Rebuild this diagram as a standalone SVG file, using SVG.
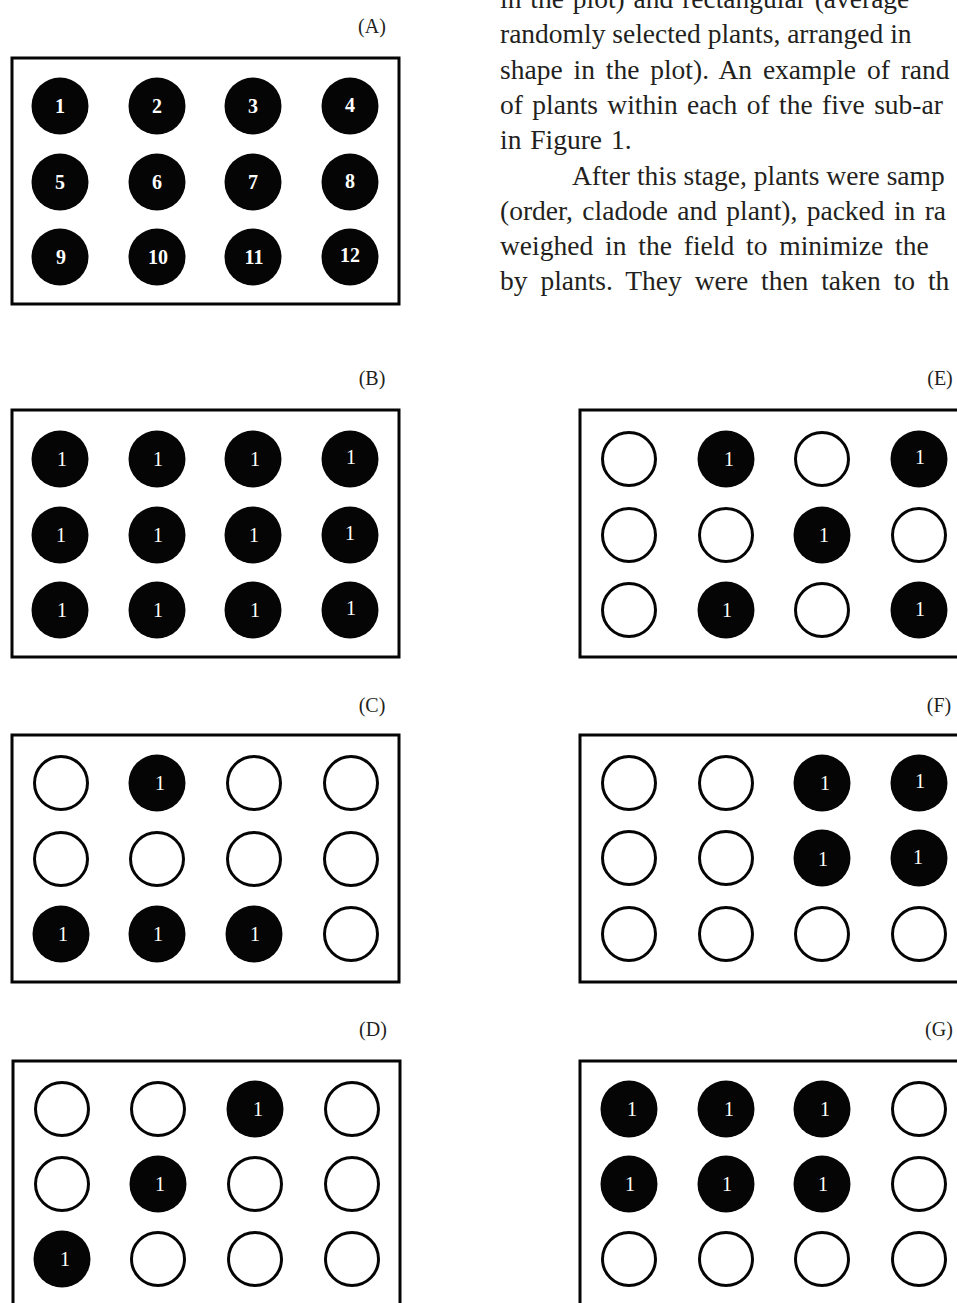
<svg xmlns="http://www.w3.org/2000/svg" width="957" height="1303" viewBox="0 0 957 1303">
<style>
.bg{fill:#ffffff}
.box{fill:none;stroke:#050505;stroke-width:3}
.f{fill:#050505}
.o{fill:#ffffff;stroke:#050505;stroke-width:3}
.lab{font-family:"Liberation Serif","Times New Roman",serif;font-size:20px;fill:#231f20;text-anchor:middle}
.nb{font-family:"Liberation Serif","Times New Roman",serif;font-size:20px;font-weight:bold;fill:#ffffff;text-anchor:middle}
.n{font-family:"Liberation Serif","Times New Roman",serif;font-size:20px;fill:#ffffff;text-anchor:middle}
.body{font-family:"Liberation Serif","Times New Roman",serif;font-size:27.5px;fill:#231f20}
</style>
<rect class="bg" x="0" y="0" width="957" height="1303"/>

<g id="body-text">
<text class="body" x="500" y="8" word-spacing="2">in the plot) and rectangular (average</text>
<text class="body" x="500" y="43">randomly selected plants, arranged in</text>
<text class="body" x="500" y="79" word-spacing="4">shape in the plot). An example of rand</text>
<text class="body" x="500" y="114" word-spacing="2.5">of plants within each of the five sub-ar</text>
<text class="body" x="500" y="149" word-spacing="2">in Figure 1.</text>
<text class="body" x="572" y="185">After this stage, plants were samp</text>
<text class="body" x="500" y="220" word-spacing="2.5">(order, cladode and plant), packed in ra</text>
<text class="body" x="500" y="255" word-spacing="5">weighed in the field to minimize the</text>
<text class="body" x="500" y="290" word-spacing="6">by plants. They were then taken to th</text>
</g>

<!-- Panel A -->
<g id="panel-A">
<text class="lab" x="372" y="33">(A)</text>
<rect class="box" x="12" y="58" width="387" height="246"/>
<g id="A-1"><circle class="f" cx="60" cy="106" r="28.5"/><text class="nb" x="60" y="113">1</text></g>
<g id="A-2"><circle class="f" cx="157" cy="106" r="28.5"/><text class="nb" x="157" y="113">2</text></g>
<g id="A-3"><circle class="f" cx="253" cy="106" r="28.5"/><text class="nb" x="253" y="113">3</text></g>
<g id="A-4"><circle class="f" cx="350" cy="106" r="28.5"/><text class="nb" x="350" y="112">4</text></g>
<g id="A-5"><circle class="f" cx="60" cy="182" r="28.5"/><text class="nb" x="60" y="189">5</text></g>
<g id="A-6"><circle class="f" cx="157" cy="182" r="28.5"/><text class="nb" x="157" y="189">6</text></g>
<g id="A-7"><circle class="f" cx="253" cy="182" r="28.5"/><text class="nb" x="253" y="189">7</text></g>
<g id="A-8"><circle class="f" cx="350" cy="182" r="28.5"/><text class="nb" x="350" y="188">8</text></g>
<g id="A-9"><circle class="f" cx="60" cy="257" r="28.5"/><text class="nb" x="61" y="264">9</text></g>
<g id="A-10"><circle class="f" cx="157" cy="257" r="28.5"/><text class="nb" x="158" y="264">10</text></g>
<g id="A-11"><circle class="f" cx="253" cy="257" r="28.5"/><text class="nb" x="254" y="264">11</text></g>
<g id="A-12"><circle class="f" cx="350" cy="257" r="28.5"/><text class="nb" x="350" y="262">12</text></g>
</g>

<!-- Panel B -->
<g id="panel-B">
<text class="lab" x="372" y="385">(B)</text>
<rect class="box" x="12" y="410" width="387" height="247"/>
<g id="B-1"><circle class="f" cx="60" cy="459" r="28.5"/><text class="n" x="62" y="466">1</text></g>
<g id="B-2"><circle class="f" cx="157" cy="459" r="28.5"/><text class="n" x="158" y="466">1</text></g>
<g id="B-3"><circle class="f" cx="253" cy="459" r="28.5"/><text class="n" x="255" y="466">1</text></g>
<g id="B-4"><circle class="f" cx="350" cy="459" r="28.5"/><text class="n" x="351" y="464">1</text></g>
<g id="B-5"><circle class="f" cx="60" cy="535" r="28.5"/><text class="n" x="61" y="542">1</text></g>
<g id="B-6"><circle class="f" cx="157" cy="535" r="28.5"/><text class="n" x="158" y="542">1</text></g>
<g id="B-7"><circle class="f" cx="253" cy="535" r="28.5"/><text class="n" x="254" y="542">1</text></g>
<g id="B-8"><circle class="f" cx="350" cy="535" r="28.5"/><text class="n" x="350" y="540">1</text></g>
<g id="B-9"><circle class="f" cx="60" cy="610" r="28.5"/><text class="n" x="62" y="617">1</text></g>
<g id="B-10"><circle class="f" cx="157" cy="610" r="28.5"/><text class="n" x="158" y="617">1</text></g>
<g id="B-11"><circle class="f" cx="253" cy="610" r="28.5"/><text class="n" x="255" y="617">1</text></g>
<g id="B-12"><circle class="f" cx="350" cy="610" r="28.5"/><text class="n" x="351" y="615">1</text></g>
</g>

<!-- Panel C -->
<g id="panel-C">
<text class="lab" x="372" y="712">(C)</text>
<rect class="box" x="12" y="735" width="387" height="247"/>
<g id="C-1"><circle class="o" cx="61" cy="783" r="26.5"/></g>
<g id="C-2"><circle class="f" cx="157" cy="783" r="28.5"/><text class="n" x="160" y="790">1</text></g>
<g id="C-3"><circle class="o" cx="254" cy="783" r="26.5"/></g>
<g id="C-4"><circle class="o" cx="351" cy="783" r="26.5"/></g>
<g id="C-5"><circle class="o" cx="61" cy="859" r="26.5"/></g>
<g id="C-6"><circle class="o" cx="157" cy="859" r="26.5"/></g>
<g id="C-7"><circle class="o" cx="254" cy="859" r="26.5"/></g>
<g id="C-8"><circle class="o" cx="351" cy="859" r="26.5"/></g>
<g id="C-9"><circle class="f" cx="61" cy="934" r="28.5"/><text class="n" x="63" y="941">1</text></g>
<g id="C-10"><circle class="f" cx="157" cy="934" r="28.5"/><text class="n" x="158" y="941">1</text></g>
<g id="C-11"><circle class="f" cx="254" cy="934" r="28.5"/><text class="n" x="255" y="941">1</text></g>
<g id="C-12"><circle class="o" cx="351" cy="934" r="26.5"/></g>
</g>

<!-- Panel D -->
<g id="panel-D">
<text class="lab" x="373" y="1036">(D)</text>
<rect class="box" x="13" y="1061" width="387" height="260"/>
<g id="D-1"><circle class="o" cx="62" cy="1109" r="26.5"/></g>
<g id="D-2"><circle class="o" cx="158" cy="1109" r="26.5"/></g>
<g id="D-3"><circle class="f" cx="255" cy="1109" r="28.5"/><text class="n" x="258" y="1116">1</text></g>
<g id="D-4"><circle class="o" cx="352" cy="1109" r="26.5"/></g>
<g id="D-5"><circle class="o" cx="62" cy="1184" r="26.5"/></g>
<g id="D-6"><circle class="f" cx="158" cy="1184" r="28.5"/><text class="n" x="160" y="1191">1</text></g>
<g id="D-7"><circle class="o" cx="255" cy="1184" r="26.5"/></g>
<g id="D-8"><circle class="o" cx="352" cy="1184" r="26.5"/></g>
<g id="D-9"><circle class="f" cx="62" cy="1259" r="28.5"/><text class="n" x="65" y="1266">1</text></g>
<g id="D-10"><circle class="o" cx="158" cy="1259" r="26.5"/></g>
<g id="D-11"><circle class="o" cx="255" cy="1259" r="26.5"/></g>
<g id="D-12"><circle class="o" cx="352" cy="1259" r="26.5"/></g>
</g>

<!-- Panel E -->
<g id="panel-E">
<text class="lab" x="940" y="385">(E)</text>
<rect class="box" x="580" y="410" width="400" height="247"/>
<g id="E-1"><circle class="o" cx="629" cy="459" r="26.5"/></g>
<g id="E-2"><circle class="f" cx="726" cy="459" r="28.5"/><text class="n" x="729" y="466">1</text></g>
<g id="E-3"><circle class="o" cx="822" cy="459" r="26.5"/></g>
<g id="E-4"><circle class="f" cx="919" cy="459" r="28.5"/><text class="n" x="920" y="464">1</text></g>
<g id="E-5"><circle class="o" cx="629" cy="535" r="26.5"/></g>
<g id="E-6"><circle class="o" cx="726" cy="535" r="26.5"/></g>
<g id="E-7"><circle class="f" cx="822" cy="535" r="28.5"/><text class="n" x="824" y="542">1</text></g>
<g id="E-8"><circle class="o" cx="919" cy="535" r="26.5"/></g>
<g id="E-9"><circle class="o" cx="629" cy="610" r="26.5"/></g>
<g id="E-10"><circle class="f" cx="726" cy="610" r="28.5"/><text class="n" x="727" y="617">1</text></g>
<g id="E-11"><circle class="o" cx="822" cy="610" r="26.5"/></g>
<g id="E-12"><circle class="f" cx="919" cy="610" r="28.5"/><text class="n" x="920" y="616">1</text></g>
</g>

<!-- Panel F -->
<g id="panel-F">
<text class="lab" x="939" y="712">(F)</text>
<rect class="box" x="580" y="735" width="400" height="247"/>
<g id="F-1"><circle class="o" cx="629" cy="783" r="26.5"/></g>
<g id="F-2"><circle class="o" cx="726" cy="783" r="26.5"/></g>
<g id="F-3"><circle class="f" cx="822" cy="783" r="28.5"/><text class="n" x="825" y="790">1</text></g>
<g id="F-4"><circle class="f" cx="919" cy="783" r="28.5"/><text class="n" x="920" y="788">1</text></g>
<g id="F-5"><circle class="o" cx="629" cy="858" r="26.5"/></g>
<g id="F-6"><circle class="o" cx="726" cy="858" r="26.5"/></g>
<g id="F-7"><circle class="f" cx="822" cy="858" r="28.5"/><text class="n" x="823" y="866">1</text></g>
<g id="F-8"><circle class="f" cx="919" cy="858" r="28.5"/><text class="n" x="918" y="864">1</text></g>
<g id="F-9"><circle class="o" cx="629" cy="934" r="26.5"/></g>
<g id="F-10"><circle class="o" cx="726" cy="934" r="26.5"/></g>
<g id="F-11"><circle class="o" cx="822" cy="934" r="26.5"/></g>
<g id="F-12"><circle class="o" cx="919" cy="934" r="26.5"/></g>
</g>

<!-- Panel G -->
<g id="panel-G">
<text class="lab" x="939" y="1036">(G)</text>
<rect class="box" x="580" y="1061" width="400" height="260"/>
<g id="G-1"><circle class="f" cx="629" cy="1109" r="28.5"/><text class="n" x="632" y="1116">1</text></g>
<g id="G-2"><circle class="f" cx="726" cy="1109" r="28.5"/><text class="n" x="729" y="1116">1</text></g>
<g id="G-3"><circle class="f" cx="822" cy="1109" r="28.5"/><text class="n" x="825" y="1116">1</text></g>
<g id="G-4"><circle class="o" cx="919" cy="1109" r="26.5"/></g>
<g id="G-5"><circle class="f" cx="629" cy="1184" r="28.5"/><text class="n" x="630" y="1191">1</text></g>
<g id="G-6"><circle class="f" cx="726" cy="1184" r="28.5"/><text class="n" x="727" y="1191">1</text></g>
<g id="G-7"><circle class="f" cx="822" cy="1184" r="28.5"/><text class="n" x="823" y="1191">1</text></g>
<g id="G-8"><circle class="o" cx="919" cy="1184" r="26.5"/></g>
<g id="G-9"><circle class="o" cx="629" cy="1259" r="26.5"/></g>
<g id="G-10"><circle class="o" cx="726" cy="1259" r="26.5"/></g>
<g id="G-11"><circle class="o" cx="822" cy="1259" r="26.5"/></g>
<g id="G-12"><circle class="o" cx="919" cy="1259" r="26.5"/></g>
</g>
</svg>
